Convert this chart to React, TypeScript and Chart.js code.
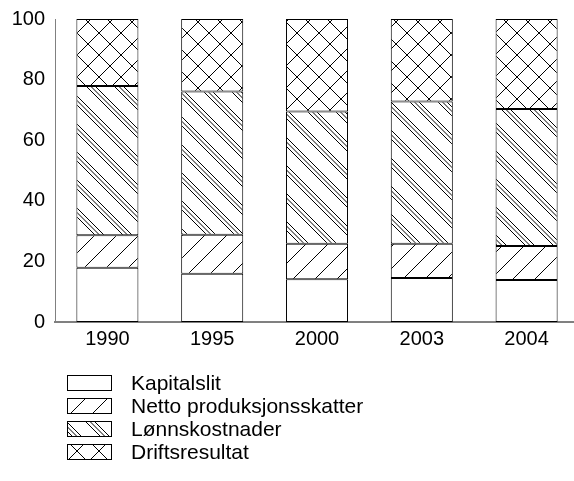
import React, { useEffect, useRef } from "react";
import { Chart, registerables } from "chart.js";

Chart.register(...registerables);

const years = ["1990", "1995", "2000", "2003", "2004"];
const seriesNames = ["Kapitalslit", "Netto produksjonsskatter", "Lønnskostnader", "Driftsresultat"];
const kapitalslit = [17.9, 15.9, 14.1, 14.5, 13.9];
const netto = [10.7, 12.9, 11.7, 11.3, 11.2];
const lonn = [49.3, 47.3, 43.7, 47.0, 45.2];
const drift = [22.1, 23.9, 30.5, 27.2, 29.7];
const yTicks = [0, 20, 40, 60, 80, 100];

const FONT = "'Liberation Sans', Arial, sans-serif";

function makePattern(size: number, draw: (g: CanvasRenderingContext2D, s: number) => void): CanvasPattern | string {
  const c = document.createElement("canvas");
  c.width = size;
  c.height = size;
  const g = c.getContext("2d");
  if (!g) return "#fff";
  g.fillStyle = "#fff";
  g.fillRect(0, 0, size, size);
  g.strokeStyle = "#000";
  g.lineWidth = 1;
  draw(g, size);
  const p = g.createPattern(c, "repeat");
  return p || "#fff";
}

function line(g: CanvasRenderingContext2D, x0: number, y0: number, x1: number, y1: number) {
  g.beginPath();
  g.moveTo(x0, y0);
  g.lineTo(x1, y1);
  g.stroke();
}

export default function App() {
  const ref = useRef<HTMLCanvasElement | null>(null);

  useEffect(() => {
    document.documentElement.style.overflow = "hidden";
    document.body.style.overflow = "hidden";
    const canvas = ref.current;
    if (!canvas) return;

    const slash = makePattern(22, (g, s) => {
      for (let k = -1; k <= 1; k++) line(g, k * s, s, k * s + s, 0);
    });
    const back = makePattern(28, (g, s) => {
      for (const off of [0, 4.5, 9]) {
        for (let k = -1; k <= 1; k++) line(g, off + k * s, 0, off + k * s + s, s);
      }
    });
    const cross = makePattern(22, (g, s) => {
      for (let k = -1; k <= 1; k++) {
        line(g, k * s, s, k * s + s, 0);
        line(g, k * s, 0, k * s + s, s);
      }
    });

    const fills = ["#ffffff", slash, back, cross];
    const values = [kapitalslit, netto, lonn, drift];

    const legendPlugin = {
      id: "customLegend",
      afterDraw(chart: any) {
        const ctx = chart.ctx as CanvasRenderingContext2D;
        ctx.save();
        chart.data.datasets.forEach((ds: any, i: number) => {
          const top = 375 + i * 23;
          ctx.fillStyle = ds.backgroundColor;
          ctx.fillRect(67.5, top + 0.5, 44, 15);
          ctx.strokeStyle = "#000";
          ctx.lineWidth = 1;
          ctx.strokeRect(67.5, top + 0.5, 44, 15);
          ctx.fillStyle = "#000";
          ctx.font = `21px ${FONT}`;
          ctx.textBaseline = "middle";
          ctx.textAlign = "left";
          ctx.fillText(ds.label, 131, top + 9);
        });
        ctx.restore();
      },
    };

    const chart = new Chart(canvas, {
      type: "bar",
      data: {
        labels: years,
        datasets: seriesNames.map((name, i) => ({
          label: name,
          data: values[i],
          backgroundColor: fills[i] as any,
          borderColor: "#000",
          borderWidth: 1,
          borderSkipped: false,
          barPercentage: 0.592,
          categoryPercentage: 1,
        })),
      },
      options: {
        animation: false,
        responsive: false,
        maintainAspectRatio: false,
        layout: { padding: { top: 19, right: 11, left: 0, bottom: 0 } },
        plugins: {
          legend: { display: false },
          tooltip: { enabled: false },
        },
        scales: {
          x: {
            stacked: true,
            grid: { display: false, drawTicks: false },
            border: { display: true, color: "#808080", width: 2 },
            ticks: { color: "#000", font: { family: FONT, size: 20 }, padding: 5 },
            afterFit: (s: any) => {
              s.height = 159;
              s.paddingLeft = 0;
              s.paddingRight = 0;
            },
          },
          y: {
            stacked: true,
            min: 0,
            max: 100,
            afterBuildTicks: (s: any) => {
              s.ticks = yTicks.map((v) => ({ value: v }));
            },
            grid: { display: false, drawTicks: false },
            border: { display: true, color: "#808080", width: 1 },
            ticks: { color: "#000", font: { family: FONT, size: 20 }, padding: 10 },
            afterFit: (s: any) => {
              s.width = 55;
              s.paddingTop = 0;
              s.paddingBottom = 0;
            },
          },
        },
      },
      plugins: [legendPlugin],
    });

    return () => chart.destroy();
  }, []);

  return (
    <div style={{ position: "fixed", left: 0, top: 0, width: 590, height: 481, background: "#fff" }}>
      <canvas ref={ref} width={590} height={481} style={{ display: "block", width: 590, height: 481 }} />
    </div>
  );
}
